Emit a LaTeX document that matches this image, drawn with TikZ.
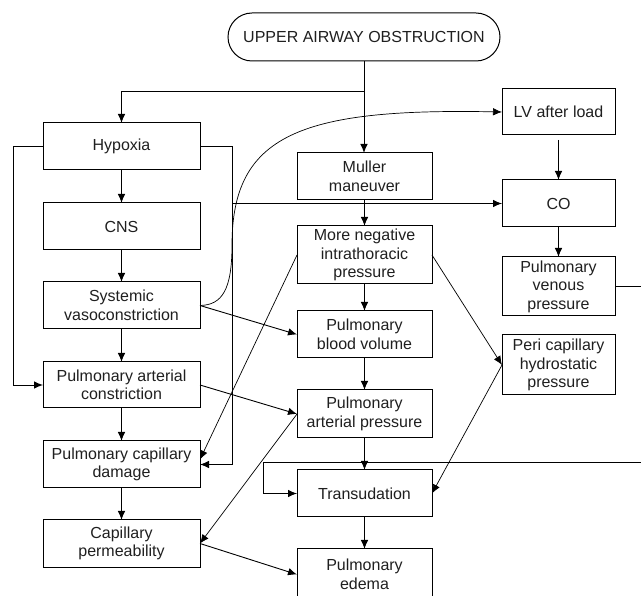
\documentclass[tikz,border=0pt]{standalone}
\usepackage{fontspec}
\setmainfont{Liberation Sans}
\usetikzlibrary{arrows.meta,shapes.misc}
\begin{document}
\begin{tikzpicture}[x=1pt,y=-1pt,
  box/.style={draw, line width=1pt, inner sep=0pt, outer sep=0pt, align=center,
    font=\fontsize{16}{18.5}\selectfont, text=black!88},
  lbox/.style={box, minimum width=157pt},
  mbox/.style={box, minimum width=135pt},
  rbox/.style={box, minimum width=113pt},
  arr/.style={line width=0.9pt, -{Latex[length=9pt,width=7.5pt]}},
  thin/.style={line width=0.7pt, -{Latex[length=9pt,width=7.5pt]}},
  plain/.style={line width=0.9pt}]
\useasboundingbox (0,0) rectangle (641,596);

\node[box, rounded rectangle, minimum width=272pt, minimum height=48pt] (top) at (364,37) {UPPER AIRWAY OBSTRUCTION};

% left column
\node[lbox, minimum height=47pt] (hyp) at (121.5,146.5) {Hypoxia};
\node[lbox, minimum height=47pt] (cns) at (121.5,226.5) {CNS};
\node[lbox, minimum height=47pt] (sys) at (121.5,305.5) {Systemic\\vasoconstriction};
\node[lbox, minimum height=46pt] (pac) at (121.5,385) {Pulmonary arterial\\constriction};
\node[lbox, minimum height=47pt] (pcd) at (121.5,464.5) {Pulmonary capillary\\damage};
\node[lbox, minimum height=47pt] (cap) at (121.5,543.5) {Capillary\\permeability};

% middle column
\node[mbox, minimum height=47pt] (mul) at (364.5,176.5) {Muller\\maneuver};
\node[mbox, minimum height=58pt] (neg) at (364.5,255) {More negative\\intrathoracic\\pressure};
\node[mbox, minimum height=47pt] (pbv) at (364.5,334.5) {Pulmonary\\blood volume};
\node[mbox, minimum height=48pt] (pap) at (364.5,414) {Pulmonary\\arterial pressure};
\node[mbox, minimum height=47pt] (tra) at (364.5,493.5) {Transudation};
\node[mbox, minimum height=51pt] (ede) at (364.5,574.5) {Pulmonary\\edema};

% right column
\node[rbox, minimum height=46pt] (lv) at (558.5,112) {LV after load};
\node[rbox, minimum height=47pt] (co) at (558.5,203.5) {CO};
\node[rbox, minimum height=59pt] (pvp) at (558.5,286.5) {Pulmonary\\venous\\pressure};
\node[rbox, minimum height=60pt] (peri) at (558.5,365) {Peri capillary\\hydrostatic\\pressure};

% helper coordinates
\coordinate (br) at (top.south |- 0,91);
\coordinate (lx) at (13,0);
\coordinate (rx) at (232,0);
\coordinate (cv) at (232,245);
\coordinate (e1) at (641,0);
\coordinate (e2) at (641,462);
\coordinate (tx) at (263,0);

% top connections
\draw[arr] (top.south) -- (top.south |- mul.north);
\draw[arr] (br) -| (hyp.north);

% left chain
\draw[arr] (hyp) -- (cns);
\draw[arr] (cns) -- (sys);
\draw[arr] (sys) -- (pac);
\draw[arr] (pac) -- (pcd);
\draw[arr] (pcd) -- (cap);

% left loops
\draw[arr] (hyp.west) -| (lx |- pac.west) -- (pac.west);
\draw[arr] (hyp.east) -| (rx |- pcd.east) -- (pcd.east);

% curve to LV after load
\draw[thin] (sys.east) .. controls (222,305) and (232,290) .. (cv)
  .. controls (232,135) and (300,108) .. (lv.west);

% to CO
\draw[arr] (rx |- co.west) -- (co.west);

% middle chain
\draw[arr] (mul) -- (neg);
\draw[arr] (neg) -- (pbv);
\draw[arr] (pbv) -- (pap);
\draw[arr] (pap) -- (tra);
\draw[arr] (tra) -- (ede);

% right chain
\draw[arr] ([yshift=-5pt]lv.south) -- (co.north);
\draw[arr] (co) -- (pvp);
\draw[plain] (pvp.east) -- (e1 |- pvp.east);
\draw[arr] (e2) -| (tx |- tra.west) -- (tra.west);

% diagonals
\draw[thin] (neg.west) -- ([yshift=5pt]pcd.east);
\draw[arr] (sys.east) -- (pbv.west);
\draw[arr] (pac.east) -- (pap.west);
\draw[thin] (pap.west) -- (cap.east);
\draw[arr] (cap.east) -- (ede.west);
\draw[thin] (neg.east) -- (peri.west);
\draw[thin] (peri.west) -- (tra.east);
\end{tikzpicture}
\end{document}
